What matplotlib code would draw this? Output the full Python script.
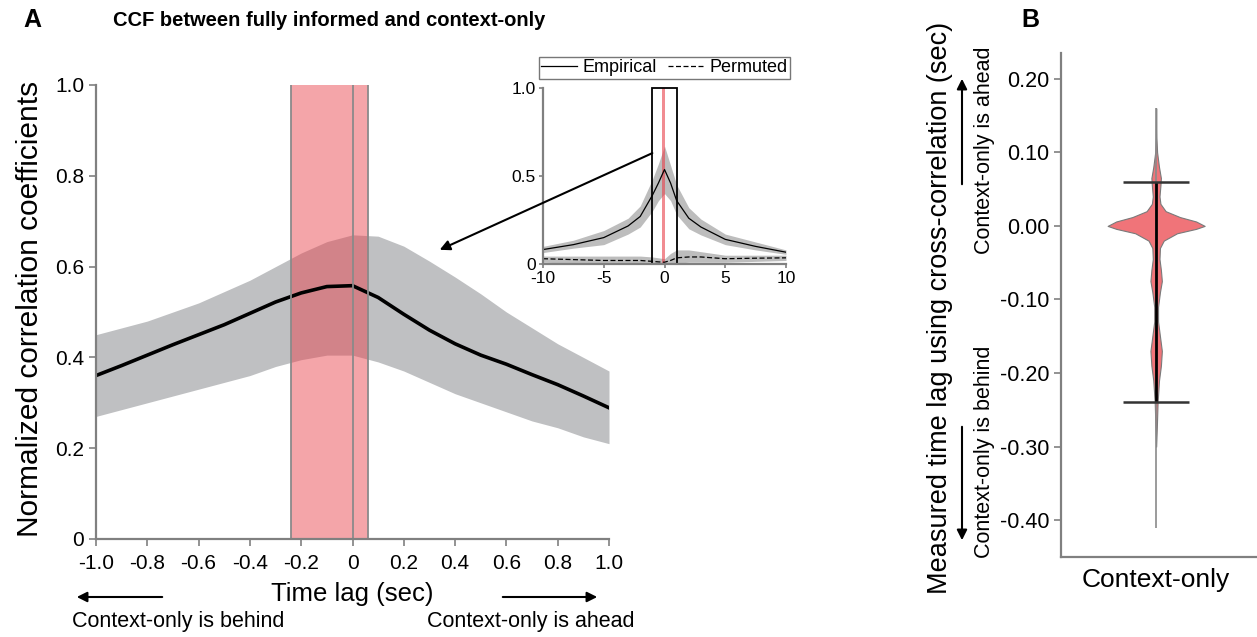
import matplotlib
matplotlib.use('Agg')
from matplotlib import pyplot
from matplotlib.patches import ConnectionPatch, Rectangle, FancyArrowPatch
import numpy

pyplot.rcParams['font.family'] = ['Liberation Sans', 'DejaVu Sans']
pyplot.rcParams['axes.unicode_minus'] = False

# panel A: cross-correlation around zero lag
lags = numpy.round(numpy.arange(-1.0, 1.01, 0.1), 1)
ccf_mean = [0.36, 0.382, 0.405, 0.428, 0.45, 0.472, 0.497, 0.522, 0.542, 0.556, 0.558,
            0.532, 0.495, 0.46, 0.43, 0.405, 0.385, 0.362, 0.34, 0.315, 0.289]
ccf_upper = [0.45, 0.465, 0.48, 0.50, 0.52, 0.545, 0.57, 0.60, 0.63, 0.655, 0.67,
             0.667, 0.645, 0.612, 0.577, 0.54, 0.50, 0.465, 0.43, 0.40, 0.37]
ccf_lower = [0.27, 0.285, 0.30, 0.315, 0.33, 0.345, 0.36, 0.38, 0.395, 0.405, 0.405,
             0.39, 0.37, 0.345, 0.32, 0.30, 0.28, 0.26, 0.245, 0.225, 0.21]
lag_range = (-0.24, 0.06)

# inset: wide lag window
wide_lags = [-10, -7.5, -5, -3, -2, -1, -0.5, 0, 0.5, 1, 2, 3, 5, 7.5, 10]
emp_mean = [0.082, 0.11, 0.15, 0.216, 0.27, 0.39, 0.46, 0.537, 0.46, 0.36, 0.26, 0.21, 0.14, 0.10, 0.067]
emp_upper = [0.10, 0.135, 0.19, 0.26, 0.33, 0.48, 0.57, 0.67, 0.56, 0.45, 0.32, 0.255, 0.17, 0.125, 0.08]
emp_lower = [0.065, 0.09, 0.11, 0.17, 0.21, 0.30, 0.36, 0.40, 0.36, 0.28, 0.20, 0.165, 0.11, 0.08, 0.055]
perm_mean = [0.03, 0.025, 0.02, 0.02, 0.02, 0.015, 0.012, 0.01, 0.02, 0.035, 0.04, 0.04, 0.03, 0.033, 0.035]
perm_upper = [0.045, 0.045, 0.045, 0.045, 0.045, 0.04, 0.035, 0.03, 0.06, 0.08, 0.08, 0.07, 0.05, 0.05, 0.05]
perm_lower = [0.01, 0.005, 0.0, 0.0, 0.0, 0.0, 0.0, 0.0, 0.0, 0.005, 0.01, 0.01, 0.01, 0.015, 0.02]

# panel B: violin profile (y value, half width)
violin_y = [0.16, 0.12, 0.10, 0.08, 0.065, 0.055, 0.04, 0.03, 0.02, 0.012, 0.006, 0.0, -0.004,
            -0.01, -0.02, -0.03, -0.045, -0.06, -0.075, -0.09, -0.11, -0.13, -0.15, -0.17,
            -0.19, -0.21, -0.24, -0.27, -0.30]
violin_w = [0.0, 0.003, 0.01, 0.03, 0.05, 0.045, 0.035, 0.045, 0.10, 0.25, 0.42, 0.51, 0.42,
            0.22, 0.08, 0.04, 0.035, 0.05, 0.06, 0.04, 0.02, 0.02, 0.04, 0.06,
            0.05, 0.03, 0.015, 0.008, 0.0]
lag_min, lag_max = -0.24, 0.06
lag_full = (-0.41, 0.16)

W, H = 1257, 637
fig = pyplot.figure(figsize=(12.57, 6.37), dpi=100)
spine_col = '#808080'


def fx(px):
    return px / W


def fy(py):
    return 1 - py / H


def style(ax, size):
    for s in ['top', 'right']:
        ax.spines[s].set_visible(False)
    for s in ['left', 'bottom']:
        ax.spines[s].set_color(spine_col)
        ax.spines[s].set_linewidth(1.6)
    ax.tick_params(colors=spine_col, labelcolor='black', labelsize=size, length=5, width=1.2)


arrow = dict(arrowstyle='-|>', color='black', lw=1.5, mutation_scale=15)


def fig_arrow(p0, p1):
    fig.add_artist(FancyArrowPatch((fx(p0[0]), fy(p0[1])), (fx(p1[0]), fy(p1[1])),
                                   transform=fig.transFigure, **arrow))


# ---- panel A
ax = fig.add_axes([fx(96), fy(539), 513 / W, 454 / H])
ax.fill_between(lags, ccf_lower, ccf_upper, color='#BFC0C2', lw=0)
ax.plot(lags, ccf_mean, color='black', lw=2.6)
ax.axvline(0, color='#8a8a8a', lw=1.3)
ax.axvspan(lag_range[0], lag_range[1], color='#E8404A', alpha=0.47, lw=0)
for v in lag_range:
    ax.axvline(v, color='#8a8a8a', lw=1.3)
ax.set_xlim(-1, 1)
ax.set_ylim(0, 1)
ax.set_xticks(numpy.round(numpy.arange(-1, 1.01, 0.2), 1))
ax.set_xticklabels(['-1.0', '-0.8', '-0.6', '-0.4', '-0.2', '0', '0.2', '0.4', '0.6', '0.8', '1.0'])
ax.set_yticks([0, 0.2, 0.4, 0.6, 0.8, 1.0])
ax.set_yticklabels(['0', '0.2', '0.4', '0.6', '0.8', '1.0'])
style(ax, 15)
ax.tick_params(axis='x', pad=6)

fig.text(fx(30), fy(309), 'Normalized correlation coefficients', fontsize=21.5,
         rotation=90, ha='center', va='center')
fig.text(fx(352), fy(594), 'Time lag (sec)', fontsize=18.5, ha='center', va='center')
fig.text(fx(329), fy(20), 'CCF between fully informed and context-only',
         fontsize=14.5, fontweight='bold', ha='center', va='center')
fig.text(fx(32), fy(20), 'A', fontsize=18, fontweight='bold', ha='center', va='center')
fig.text(fx(1030), fy(20), 'B', fontsize=18, fontweight='bold', ha='center', va='center')

fig_arrow((165, 597), (74, 597))
fig_arrow((500, 597), (600, 597))
fig.text(fx(178), fy(621), 'Context-only is behind', fontsize=15.5, ha='center', va='center')
fig.text(fx(531), fy(621), 'Context-only is ahead', fontsize=15.5, ha='center', va='center')

# ---- inset
ins = fig.add_axes([fx(543), fy(264), 243 / W, 176 / H])
ins.fill_between(wide_lags, emp_lower, emp_upper, color='#BDBDBD', lw=0)
ins.fill_between(wide_lags, perm_lower, perm_upper, color='#BDBDBD', lw=0)
l1, = ins.plot(wide_lags, emp_mean, color='black', lw=0.9, label='Empirical')
l2, = ins.plot(wide_lags, perm_mean, color='black', lw=0.9, ls=(0, (4, 2)), label='Permuted')
ins.axvspan(lag_range[0], lag_range[1], color='#E8404A', alpha=0.6, lw=0)
ins.add_patch(Rectangle((-1, 0), 2, 1, fill=False, ec='black', lw=1.3, clip_on=False))
ins.set_xlim(-10, 10)
ins.set_ylim(0, 1)
ins.set_xticks([-10, -5, 0, 5, 10])
ins.set_yticks([0, 0.5, 1.0])
ins.set_yticklabels(['0', '0.5', '1.0'])
style(ins, 12.5)
ins.tick_params(length=3, pad=2)
ins.legend(handles=[l1, l2], ncol=2, loc='lower center', bbox_to_anchor=(0.5, 1.0),
           frameon=True, fancybox=False, edgecolor='#555555', fontsize=13,
           handlelength=2.0, handletextpad=0.3, columnspacing=0.6, borderpad=0.15,
           borderaxespad=0.5)

con = ConnectionPatch(xyA=(-1, 0.63), coordsA=ins.transData, xyB=(0.34, 0.637), coordsB=ax.transData,
                      arrowstyle='-|>', color='black', lw=1.5, mutation_scale=15)
fig.add_artist(con)

# ---- panel B
bx = fig.add_axes([fx(1061), fy(557), 196 / W, 504 / H])
vy = numpy.array(violin_y)
vw = numpy.array(violin_w)
bx.fill_betweenx(vy, 1 - vw, 1 + vw, color='#F07479', edgecolor='#7a7a7a', lw=0.8)
bx.vlines(1, lag_full[0], lag_full[1], color='#8a8a8a', lw=1.2)
bx.vlines(1, lag_min, lag_max, color='black', lw=2.0)
bx.hlines([lag_min, lag_max], 1 - 0.35, 1 + 0.35, color='#333333', lw=1.8)
bx.set_xlim(0, 2.06)
bx.set_ylim(-0.45, 0.235)
bx.set_xticks([1])
bx.set_xticklabels(['Context-only'])
bx.set_yticks([0.2, 0.1, 0.0, -0.1, -0.2, -0.3, -0.4])
bx.set_yticklabels(['0.20', '0.10', '0.00', '-0.10', '-0.20', '-0.30', '-0.40'])
style(bx, 15.5)
bx.tick_params(axis='x', length=0, labelsize=19, pad=8)
bx.tick_params(axis='y', length=5)

fig.text(fx(940), fy(308), 'Measured time lag using cross-correlation (sec)',
         fontsize=19.5, rotation=90, ha='center', va='center')
fig.text(fx(985), fy(150), 'Context-only is ahead', fontsize=15.5, rotation=90, ha='center', va='center')
fig.text(fx(985), fy(452), 'Context-only is behind', fontsize=15.5, rotation=90, ha='center', va='center')
fig_arrow((962, 187), (962, 76))
fig_arrow((962, 424), (962, 543))

fig.savefig('out.png', dpi=100)
